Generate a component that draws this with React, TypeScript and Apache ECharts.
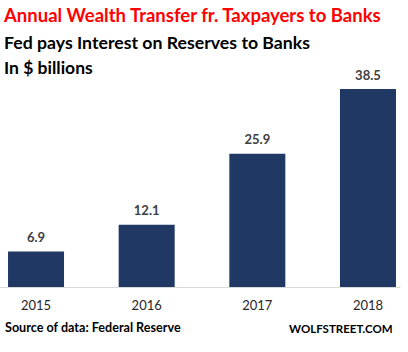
import React, { useEffect, useRef } from "react";
import * as echarts from "echarts";

const years = ["2015", "2016", "2017", "2018"];
const interest = [6.9, 12.1, 25.9, 38.5];
const titleLines = [
  "Annual Wealth Transfer fr. Taxpayers to Banks",
  "Fed pays Interest on Reserves to Banks",
  "In $ billions",
];
const sourceText = "Source of data: Federal Reserve";
const brandText = "WOLFSTREET.COM";

const FONT = "Lato, 'Open Sans', sans-serif";

export default function App() {
  const ref = useRef<HTMLDivElement>(null);
  useEffect(() => {
    document.body.style.margin = "0";
    if (!ref.current) return;
    const chart = echarts.init(ref.current, null, { renderer: "svg" });
    chart.setOption({
      animation: false,
      backgroundColor: "#ffffff",
      grid: [
        { left: -19.3, width: 442.6, top: 81.4, height: 205.6, outerBoundsMode: "none", containLabel: false },
        { left: 0, width: 400, top: 81.4, height: 205.6, outerBoundsMode: "none", containLabel: false },
      ],
      xAxis: [
        {
          type: "category",
          gridIndex: 0,
          data: years,
          axisLine: { show: false },
          axisTick: { show: false },
          axisLabel: {
            color: "#262626",
            fontSize: 13,
            fontFamily: FONT,
            margin: 11,
          },
        },
        {
          type: "category",
          gridIndex: 1,
          data: years,
          axisLine: { show: true, lineStyle: { color: "#d9d9d9", width: 1 } },
          axisTick: { show: false },
          axisLabel: { show: false },
        },
      ],
      yAxis: [
        { type: "value", gridIndex: 0, min: 0, max: 40, show: false },
        { type: "value", gridIndex: 1, min: 0, max: 40, show: false },
      ],
      series: [
        {
          type: "bar",
          xAxisIndex: 0,
          yAxisIndex: 0,
          data: interest,
          barWidth: 56,
          itemStyle: { color: "#203864" },
          label: {
            show: true,
            position: "top",
            distance: 8,
            color: "#404040",
            fontSize: 13,
            fontWeight: "bold",
            fontFamily: FONT,
            formatter: (p: any) => p.value.toFixed(1),
          },
        },
      ],
      graphic: [
        {
          type: "text",
          left: 4,
          top: 5,
          style: {
            text: titleLines[0],
            fill: "#ff0000",
            font: `bold 18.5px ${FONT}`,
          },
        },
        {
          type: "text",
          left: 4,
          top: 33,
          style: {
            text: titleLines[1],
            fill: "#000000",
            font: `bold 17.7px ${FONT}`,
          },
        },
        {
          type: "text",
          left: 4,
          top: 58,
          style: {
            text: titleLines[2],
            fill: "#000000",
            font: `bold 17.5px ${FONT}`,
          },
        },
        {
          type: "text",
          left: 5,
          top: 321,
          style: {
            text: sourceText,
            fill: "#000000",
            font: `bold 12.6px ${FONT}`,
          },
        },
        {
          type: "text",
          left: 289,
          top: 322,
          style: {
            text: brandText,
            fill: "#000000",
            font: `bold 11.5px ${FONT}`,
          },
        },
      ],
    });
    return () => chart.dispose();
  }, []);
  return <div ref={ref} style={{ width: 408, height: 352 }} />;
}
